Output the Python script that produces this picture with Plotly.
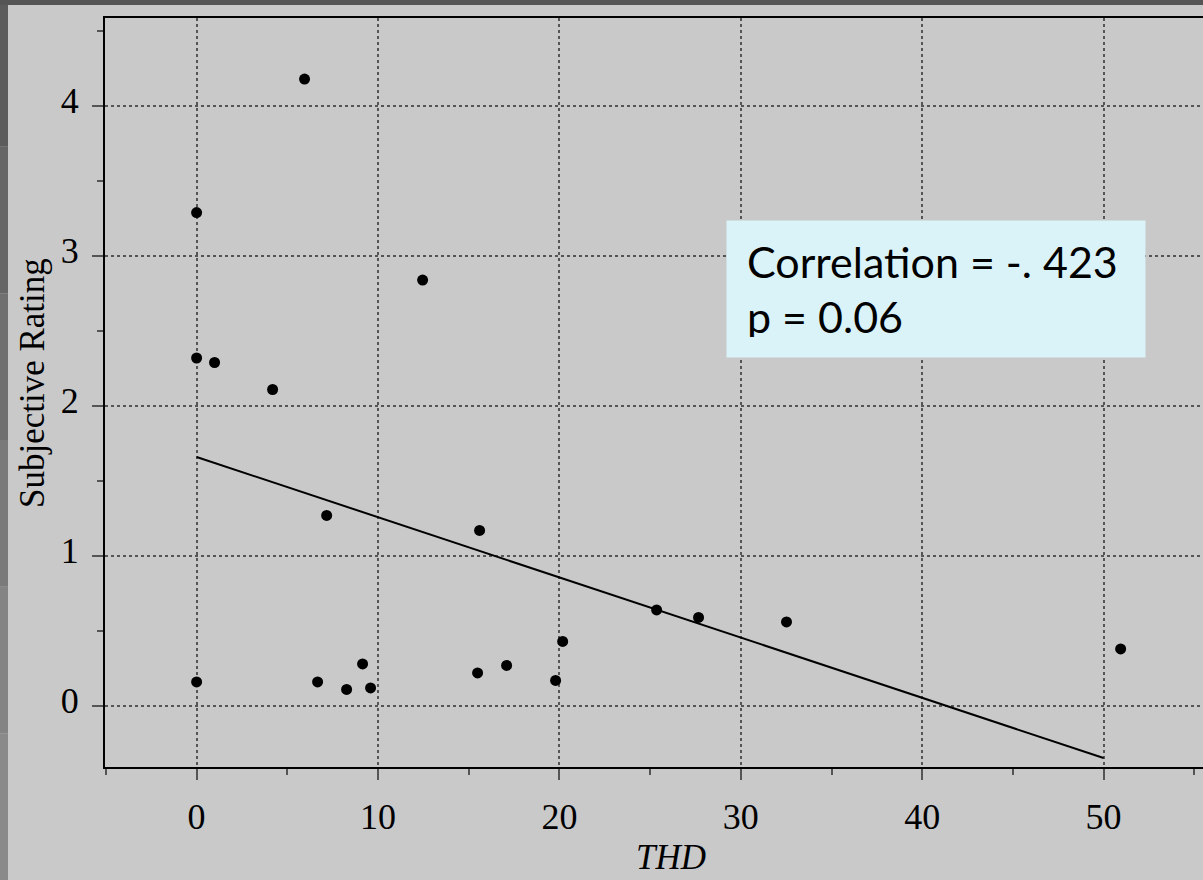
import plotly.graph_objects as go

# Data
thd = [5.95, 0.0, 0.0, 0.99, 4.19, 12.46, 0.0, 7.17, 6.67, 8.27, 9.15, 9.59,
       15.6, 15.49, 17.09, 19.79, 20.18, 25.36, 27.67, 32.52, 50.94]
rating = [4.18, 3.29, 2.32, 2.29, 2.11, 2.84, 0.16, 1.27, 0.16, 0.11, 0.28, 0.12,
          1.17, 0.22, 0.27, 0.17, 0.43, 0.64, 0.59, 0.56, 0.38]
fit_x = [0, 50]
fit_y = [1.66, -0.347]
x_ticks = [0, 10, 20, 30, 40, 50]
y_ticks = [0, 1, 2, 3, 4]

BG = "#c9c9c9"
SERIF = "Liberation Serif, Times New Roman, serif"

fig = go.Figure()
fig.add_trace(go.Scatter(x=fit_x, y=fit_y, mode="lines",
                         line=dict(color="black", width=2), hoverinfo="skip",
                         showlegend=False))
fig.add_trace(go.Scatter(x=thd, y=rating, mode="markers",
                         marker=dict(color="black", size=11), showlegend=False))

axis_common = dict(
    showline=True, linecolor="black", linewidth=2,
    ticks="outside", tickcolor="#555555", tickwidth=2, ticklen=11,
    showgrid=True, gridcolor="#555555", gridwidth=1.5, griddash="dot",
    zeroline=False,
    tickfont=dict(family=SERIF, size=36, color="black"),
)

fig.update_xaxes(
    range=[-5.05, 55.48], tickvals=x_ticks, mirror=True,
    minor=dict(dtick=5, tick0=0, ticks="outside", ticklen=6, tickcolor="#555555",
               tickwidth=2, showgrid=False),
    ticklabelstandoff=6,
    **axis_common,
)
fig.update_yaxes(
    range=[-0.407, 4.587], tickvals=y_ticks,
    minor=dict(dtick=0.5, tick0=0, ticks="outside", ticklen=6, tickcolor="#555555",
               tickwidth=2, showgrid=False),
    ticklabelstandoff=6, ticklabelshift=-6,
    **axis_common,
)

# axis titles
fig.add_annotation(xref="paper", yref="paper", x=(671 - 105) / 1098, y=(767 - 879) / 749,
                   xanchor="center", yanchor="bottom", showarrow=False,
                   text="<i>THD</i>", font=dict(family=SERIF, size=35, color="black"))
fig.add_annotation(xref="paper", yref="paper", x=(33 - 105) / 1098, y=(767 - 383) / 749,
                   xanchor="center", yanchor="middle", showarrow=False, textangle=-90,
                   text="Subjective Rating", font=dict(family=SERIF, size=35, color="black"))

fig.add_annotation(
    xref="x", yref="y", x=29.2, y=2.78, xanchor="left", yanchor="middle",
    text="Correlation = -. 423<br>p = 0.06", align="left", showarrow=False,
    font=dict(family="Lato, Open Sans, sans-serif", size=43, color="black"),
    bgcolor="#daf3f8", borderpad=20, width=378, height=96,
)

# dark slide frame strips
strip_cols = ["#5c5c5c", "#666666", "#707070", "#7a7a7a", "#848484", "#8a8a8a"]
n = len(strip_cols)
for i, c in enumerate(strip_cols):
    y1 = (767 - 0 - i * 880 / n) / 749
    y0 = (767 - (i + 1) * 880 / n) / 749
    fig.add_shape(type="rect", xref="paper", yref="paper", x0=-105 / 1098, x1=-97 / 1098,
                  y0=y0, y1=y1, fillcolor=c, line_width=0, layer="below")
fig.add_shape(type="rect", xref="paper", yref="paper", x0=-105 / 1098, x1=1.0,
              y0=(767 - 5) / 749, y1=(767 + 2) / 749, fillcolor="#555555", line_width=0,
              layer="below")

fig.update_layout(
    width=1203, height=880,
    margin=dict(l=105, r=0, t=18, b=113),
    paper_bgcolor=BG, plot_bgcolor=BG,
    font=dict(family=SERIF),
)

fig.write_html("out.html")
